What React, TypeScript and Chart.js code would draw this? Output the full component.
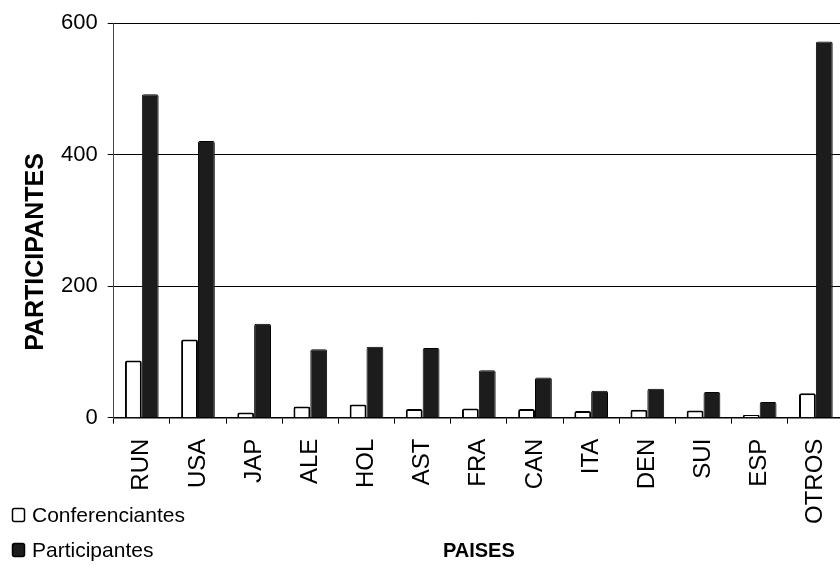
import React, { useEffect, useRef } from "react";
import { Chart, registerables } from "chart.js";

Chart.register(...registerables);

const categories = ["RUN", "USA", "JAP", "ALE", "HOL", "AST", "FRA", "CAN", "ITA", "DEN", "SUI", "ESP", "OTROS"];
const conferenciantes = [87, 119, 8, 17, 20, 13, 14, 13, 10, 12, 11, 4, 37];
const participantes = [492, 421, 143, 104, 108, 106, 72, 61, 41, 44, 39, 24, 572];
const yTicks = [0, 200, 400, 600];
const seriesNames = ["Conferenciantes", "Participantes"];
const yTitle = "PARTICIPANTES";
const xTitle = "PAISES";

const FONT = "'Liberation Sans', Arial, sans-serif";
const DARK = "#1c1c1c";

const extrasPlugin = {
  id: "extras",
  afterDraw(chart: any) {
    const ctx = chart.ctx as CanvasRenderingContext2D;
    ctx.save();
    // y title
    ctx.translate(36, 252);
    ctx.rotate(-Math.PI / 2);
    ctx.fillStyle = "#000";
    ctx.font = `bold 25px ${FONT}`;
    ctx.textAlign = "center";
    ctx.textBaseline = "middle";
    ctx.fillText(yTitle, 0, 0);
    ctx.restore();

    // legend
    const items = [
      { label: seriesNames[0], fill: "#ffffff", y: 515 },
      { label: seriesNames[1], fill: DARK, y: 550 },
    ];
    ctx.save();
    ctx.font = `21px ${FONT}`;
    ctx.textBaseline = "middle";
    ctx.textAlign = "left";
    for (const it of items) {
      ctx.beginPath();
      (ctx as any).roundRect ? (ctx as any).roundRect(12.5, it.y - 6.5, 12, 13, 2) : ctx.rect(12.5, it.y - 6.5, 12, 13);
      ctx.fillStyle = it.fill;
      ctx.fill();
      ctx.lineWidth = 1.5;
      ctx.strokeStyle = "#000";
      ctx.stroke();
      ctx.fillStyle = "#000";
      ctx.fillText(it.label, 32, it.y + 1);
    }
    ctx.restore();
  },
};

export default function App() {
  const ref = useRef<HTMLCanvasElement>(null);
  useEffect(() => {
    if (!ref.current) return;
    const chart = new Chart(ref.current, {
      type: "bar",
      data: {
        labels: categories,
        datasets: [
          {
            label: seriesNames[0],
            data: conferenciantes,
            backgroundColor: "#ffffff",
            borderColor: "#000000",
            borderWidth: 2,
            borderRadius: 2,
            categoryPercentage: 0.6,
            barPercentage: 1.0,
          },
          {
            label: seriesNames[1],
            data: participantes,
            backgroundColor: DARK,
            borderColor: "#000000",
            borderWidth: 1,
            borderRadius: 2,
            categoryPercentage: 0.6,
            barPercentage: 1.0,
          },
        ],
      },
      options: {
        responsive: false,
        animation: false,
        layout: { padding: { left: 51, right: 9, top: 15, bottom: 5 } },
        plugins: {
          legend: { display: false },
          tooltip: { enabled: false },
        },
        scales: {
          x: {
            grid: {
              drawOnChartArea: false,
              drawTicks: true,
              tickLength: 6,
              color: "#000",
              offset: true,
            },
            border: { color: "#000", width: 1.5 },
            ticks: {
              color: "#000",
              font: { family: FONT, size: 24 },
              minRotation: 90,
              maxRotation: 90,
              padding: 15,
              autoSkip: false,
            },
            title: {
              display: true,
              text: xTitle,
              color: "#000",
              font: { family: FONT, size: 20, weight: "bold" },
              padding: { top: 0, bottom: 3 },
            },
          },
          y: {
            min: 0,
            max: 600,
            afterBuildTicks(axis: any) {
              axis.ticks = yTicks.map((v) => ({ value: v }));
            },
            grid: {
              color: "#000",
              lineWidth: 1,
              tickLength: 6,
            },
            border: { color: "#444", width: 1 },
            ticks: {
              color: "#000",
              font: { family: FONT, size: 22 },
              padding: 10,
            },
          },
        },
      },
      plugins: [extrasPlugin],
    });
    return () => chart.destroy();
  }, []);

  return (
    <div style={{ position: "absolute", left: 0, top: 0, width: 840, height: 571, overflow: "hidden", background: "#fff" }}>
      <canvas ref={ref} width={860} height={571} style={{ display: "block" }} />
    </div>
  );
}
